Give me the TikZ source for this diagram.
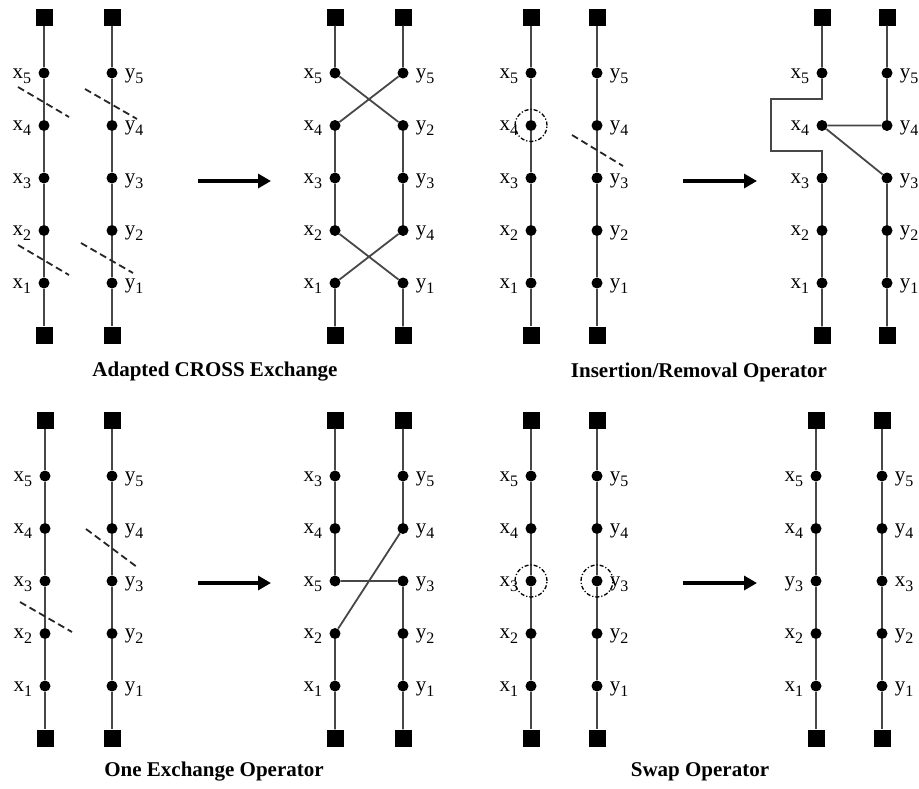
\documentclass[tikz,border=0pt]{standalone}
\usepackage{fontspec}
\setmainfont{Liberation Serif}
\usetikzlibrary{arrows.meta,positioning}
\tikzset{dot/.style={circle,fill,inner sep=0pt,minimum size=11pt}}
\tikzstyle{depot}=[rectangle,fill,inner sep=0pt,minimum size=17pt]
\tikzstyle{route}=[line width=1.8pt,draw=black!72]
\tikzstyle{cut}=[line width=1.8pt,dash pattern=on 7pt off 4pt,draw=black!85]
\tikzstyle{pick}=[circle,draw,line width=1.3pt,dash pattern=on 4pt off 2pt on 1.2pt off 2pt,minimum size=32pt,inner sep=0pt]
\tikzstyle{lab}=[font=\fontsize{21}{21}\selectfont,inner sep=0pt,yshift=-5pt]
\tikzstyle{optitle}=[font=\fontsize{21}{21}\selectfont\bfseries]
\tikzstyle{flow}=[->,line width=4pt]
\newcommand{\idx}[1]{\raisebox{-5pt}{\fontsize{16}{16}\selectfont#1}}

\begin{document}
\begin{tikzpicture}[x=1pt,y=-1pt,>={Triangle[length=13pt,width=14pt]}]
\useasboundingbox (0,0) rectangle (919,788);

% depots and customers of every panel
\foreach \p/\xl/\xr/\yt in {a/44/112/0,b/335/403/0,c/531/597/0,d/822/887/0,e/45/112/403,f/335/403/403,g/531/597/403,h/816/882/403}{
  \node[depot] (\p lt) at (\xl,17+\yt) {};
  \node[depot] (\p rt) at (\xr,17+\yt) {};
  \node[depot] (\p lb) at (\xl,335+\yt) {};
  \node[depot] (\p rb) at (\xr,335+\yt) {};
  \foreach \i in {1,...,5}{
    \node[dot] (\p l\i) at (\xl,{283+\yt-52.5*(\i-1)}) {};
    \node[dot] (\p r\i) at (\xr,{283+\yt-52.5*(\i-1)}) {};
  }
}

% labels
\foreach \p in {a,c,d,e,g}
  \foreach \i in {1,...,5}{
    \node[lab,base left=7pt of \p l\i] (\p xl\i) {x\idx{\i}};
    \node[lab,base right=7pt of \p r\i] (\p yr\i) {y\idx{\i}};
  }
\foreach \i/\a/\na/\b/\nb in {5/x/5/y/5,4/x/4/y/2,3/x/3/y/3,2/x/2/y/4,1/x/1/y/1}{
  \node[lab,base left=7pt of bl\i] (bxl\i) {\a\idx{\na}};
  \node[lab,base right=7pt of br\i] (byr\i) {\b\idx{\nb}};
}
\foreach \i/\a/\na/\b/\nb in {5/x/3/y/5,4/x/4/y/4,3/x/5/y/3,2/x/2/y/2,1/x/1/y/1}{
  \node[lab,base left=7pt of fl\i] (fxl\i) {\a\idx{\na}};
  \node[lab,base right=7pt of fr\i] (fyr\i) {\b\idx{\nb}};
}
\foreach \i/\a/\na/\b/\nb in {5/x/5/y/5,4/x/4/y/4,3/y/3/x/3,2/x/2/y/2,1/x/1/y/1}{
  \node[lab,base left=7pt of hl\i] (hxl\i) {\a\idx{\na}};
  \node[lab,base right=7pt of hr\i] (hyr\i) {\b\idx{\nb}};
}

% routes
\foreach \p in {a,c,e,g,h}
  \draw[route] (\p lt) -- (\p l5) -- (\p l4) -- (\p l3) -- (\p l2) -- (\p l1) -- (\p lb)
               (\p rt) -- (\p r5) -- (\p r4) -- (\p r3) -- (\p r2) -- (\p r1) -- (\p rb);
\draw[route] (blt) -- (bl5) -- (br4) -- (br3) -- (br2) -- (bl1) -- (blb)
             (brt) -- (br5) -- (bl4) -- (bl3) -- (bl2) -- (br1) -- (brb);
\draw[route] (dlt) -- (dl5) -- ++(0,26) -- ++(-51,0) -- ++(0,52) -- ++(51,0) -- (dl3) -- (dl2) -- (dl1) -- (dlb)
             (drt) -- (dr5) -- (dr4) -- (dl4) -- (dr3) -- (dr2) -- (dr1) -- (drb);
\draw[route] (flt) -- (fl5) -- (fl4) -- (fl3) -- (fr3) -- (fr2) -- (fr1) -- (frb)
             (frt) -- (fr5) -- (fr4) -- (fl2) -- (fl1) -- (flb);

% removed arcs
\draw[cut] (18,87) -- (69,117);
\draw[cut] (85,89) -- (137,119);
\draw[cut] (18,245) -- (69,275);
\draw[cut] (81,243) -- (133,273);
\draw[cut] (572,135) -- (623,166);
\draw[cut] (20,602) -- (72,632);
\draw[cut] (86,529) -- (137,567);

% picked customers
\node[pick] (cpick) at (cl4) {};
\node[pick] (gpickl) at (gl3) {};
\node[pick] (gpickr) at (gr3) {};

% moves
\coordinate (ab1) at (198,181);
\coordinate (ab2) at (271,181);
\coordinate (cd1) at (683,181);
\coordinate (cd2) at (757,181);
\coordinate (ef1) at (198,583);
\coordinate (ef2) at (271,583);
\coordinate (gh1) at (683,583);
\coordinate (gh2) at (757,583);
\draw[flow] (ab1) -- (ab2);
\draw[flow] (cd1) -- (cd2);
\draw[flow] (ef1) -- (ef2);
\draw[flow] (gh1) -- (gh2);

\node[optitle] (capab) at (215,372) {Adapted CROSS Exchange};
\node[optitle] (capcd) at (699,372) {Insertion/Removal Operator};
\node[optitle] (capef) at (214,772) {One Exchange Operator};
\node[optitle] (capgh) at (700,772) {Swap Operator};
\end{tikzpicture}
\end{document}
